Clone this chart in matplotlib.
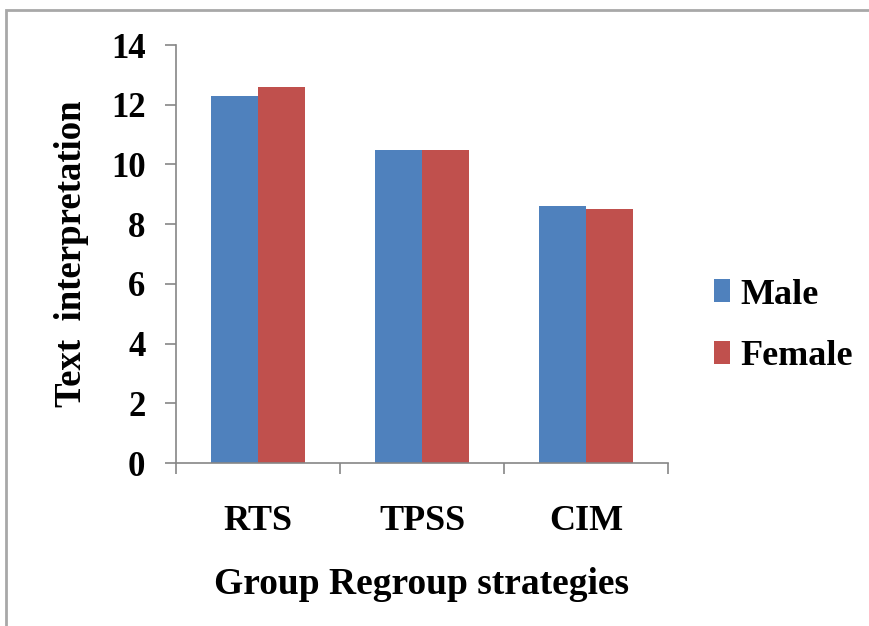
import matplotlib
matplotlib.use("Agg")
import matplotlib.pyplot as plt
from matplotlib.patches import Rectangle, Patch
import numpy as np

categories = ["RTS", "TPSS", "CIM"]
male = [12.3, 10.5, 8.6]
female = [12.6, 10.5, 8.5]
series_names = ["Male", "Female"]
y_ticks = [0, 2, 4, 6, 8, 10, 12, 14]

plt.rcParams['font.family'] = ['Liberation Serif', 'DejaVu Serif']
plt.rcParams['font.weight'] = 'bold'

W, H = 869, 626
fig = plt.figure(figsize=(W / 100, H / 100), dpi=100)
fig.patch.set_facecolor('white')

# outer border (gray frame at left/top)
fig.add_artist(Rectangle((6 / W, -0.1), 1.2, 1 - 10 / H + 0.1, transform=fig.transFigure,
                         fill=False, edgecolor='#a8a8a8', linewidth=2))

ax = fig.add_axes([176 / W, 1 - 463 / H, (668 - 176) / W, (463 - 45) / H])

x = np.arange(len(categories))
w = 0.287
ax.bar(x - w / 2, male, w, color='#4F81BD', label=series_names[0])
ax.bar(x + w / 2, female, w, color='#C0504D', label=series_names[1])

ax.set_xlim(-0.5, len(categories) - 0.5)
ax.set_ylim(0, 14)
ax.set_yticks(y_ticks)
ax.set_yticklabels([str(v) for v in y_ticks])
ax.set_xticks(x)
ax.set_xticklabels(categories)
ax.set_xticks(np.arange(-0.5, len(categories)), minor=True)

axis_col = '#868686'
for s in ['top', 'right']:
    ax.spines[s].set_visible(False)
for s in ['left', 'bottom']:
    ax.spines[s].set_color(axis_col)
    ax.spines[s].set_linewidth(1.2)

ax.tick_params(axis='y', direction='out', length=8, width=1.2, color=axis_col,
               labelsize=25, pad=14)
ax.tick_params(axis='x', which='major', length=0, labelsize=26, pad=30)
ax.tick_params(axis='x', which='minor', direction='out', length=8, width=1.2, color=axis_col)
for lab in ax.get_xticklabels() + ax.get_yticklabels():
    lab.set_fontweight('bold')

ax.set_xlabel("Group Regroup strategies", fontsize=27, fontweight='bold', labelpad=21)
ax.set_ylabel("Text  interpretation", fontsize=26.5, fontweight='bold', labelpad=16)

handles = [Patch(facecolor='#4F81BD'), Patch(facecolor='#C0504D')]
fig.legend(handles, series_names, loc='center left', bbox_to_anchor=(681 / W, 1 - 326 / H),
           frameon=False, handlelength=0.45, handleheight=0.6,
           handletextpad=0.3, labelspacing=0.8, prop={'weight': 'bold', 'size': 26})

fig.savefig("out.png", dpi=100, facecolor='white')
